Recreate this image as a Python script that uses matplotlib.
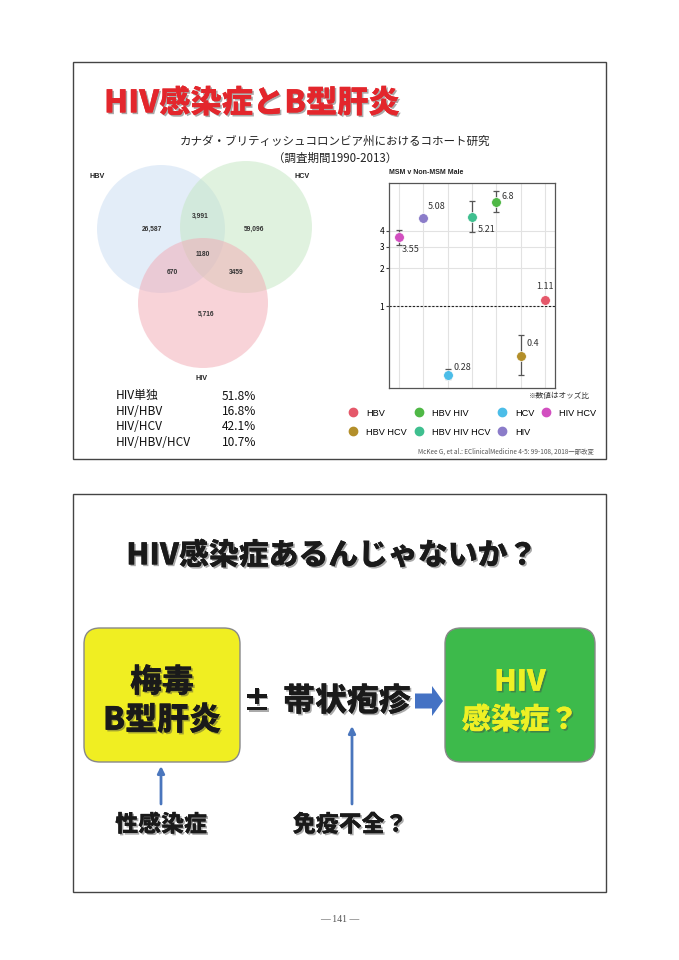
import matplotlib
matplotlib.use('Agg')
import matplotlib.pyplot as plt
import matplotlib.patches as mpatches
import matplotlib.patheffects as pe
from matplotlib.lines import Line2D
import numpy as np

plt.rcParams['font.family'] = ['Noto Sans CJK JP', 'DejaVu Sans']

W, H = 679, 960

# venn counts
venn_sets = ['HBV', 'HCV', 'HIV']
venn_counts = {'HBV': '26,587', 'HCV': '59,096', 'HIV': '5,716',
               'HBV_HCV': '3,991', 'HBV_HIV': '670', 'HCV_HIV': '3459',
               'ALL': '1180'}

# co-infection share among HIV
share_labels = ['HIV単独', 'HIV/HBV', 'HIV/HCV', 'HIV/HBV/HCV']
share_values = ['51.8%', '16.8%', '42.1%', '10.7%']

# odds ratios, MSM v Non-MSM Male
groups = ['HIV HCV', 'HIV', 'HCV', 'HBV HIV HCV', 'HBV HIV', 'HBV HCV', 'HBV']
odds = [3.55, 5.08, 0.28, 5.21, 6.8, 0.4, 1.11]
ci_lo = [3.1, 4.95, 0.26, 3.93, 5.68, 0.28, 1.06]
ci_hi = [4.06, 5.2, 0.31, 6.96, 8.37, 0.585, 1.16]
colors = {'HBV': '#e5586a', 'HBV HIV': '#4fb846', 'HCV': '#4cbde8',
          'HIV HCV': '#d24fc0', 'HBV HCV': '#b38f2a',
          'HBV HIV HCV': '#3fbf8f', 'HIV': '#8b7cc9'}
legend_order = ['HBV', 'HBV HCV', 'HBV HIV', 'HBV HIV HCV', 'HCV', 'HIV', 'HIV HCV']

fig = plt.figure(figsize=(W / 100, H / 100), dpi=100)
bg = fig.add_axes([0, 0, 1, 1])
bg.set_xlim(0, W)
bg.set_ylim(H, 0)
bg.axis('off')


def px_axes(x0, y0, x1, y1):
    return fig.add_axes([x0 / W, 1 - y1 / H, (x1 - x0) / W, (y1 - y0) / H])


shadow = [pe.withSimplePatchShadow(offset=(1.2, -1.2), shadow_rgbFace='#444444', alpha=0.45), pe.Normal()]

# slide frames
for top, bot in [(62, 459), (494, 892)]:
    bg.add_patch(mpatches.Rectangle((73, top), 533, bot - top, fill=False, ec='#444444', lw=1.0))

# ---------- slide 1 ----------
bg.text(104, 103, 'HIV感染症とB型肝炎', fontsize=22.5, fontweight='black', color='#e3262c',
        ha='left', va='center', path_effects=shadow)
bg.text(335, 141, 'カナダ・ブリティッシュコロンビア州におけるコホート研究', fontsize=8.3,
        ha='center', va='center', color='#222222')
bg.text(335, 158, '（調査期間1990-2013）', fontsize=8.3, ha='center', va='center', color='#222222')

# venn
circ = {'HBV': ((161, 229), 64, '#c3d8f1', 0.45),
        'HCV': ((246, 227), 66, '#c3e6c1', 0.5),
        'HIV': ((203, 303), 65, '#f2a9b3', 0.5)}
for s in venn_sets:
    c, r, col, a = circ[s]
    bg.add_patch(mpatches.Circle(c, r, fc=col, ec='none', alpha=a))
vfont = dict(fontsize=4.8, family=['Liberation Sans', 'DejaVu Sans'], fontweight='bold',
             ha='center', va='center', color='#333333')
bg.text(152, 229, venn_counts['HBV'], **vfont)
bg.text(254, 229, venn_counts['HCV'], **vfont)
bg.text(206, 314, venn_counts['HIV'], **vfont)
bg.text(200, 216, venn_counts['HBV_HCV'], **vfont)
bg.text(172, 273, venn_counts['HBV_HIV'], **vfont)
bg.text(236, 273, venn_counts['HCV_HIV'], **vfont)
bg.text(203, 255, venn_counts['ALL'], **vfont)
lfont = dict(fontsize=5.2, family=['Liberation Sans', 'DejaVu Sans'], fontweight='bold',
             ha='center', va='center', color='#222222')
bg.text(97, 177, 'HBV', **lfont)
bg.text(302, 177, 'HCV', **lfont)
bg.text(202, 378, 'HIV', **lfont)

for i, (lab, val) in enumerate(zip(share_labels, share_values)):
    y = 396 + i * 15.5
    bg.text(116, y, lab, fontsize=8.6, ha='left', va='center', color='#111111')
    bg.text(222, y, val, fontsize=8.6, ha='left', va='center', color='#111111')

# odds ratio plot
ax = px_axes(389, 183, 555, 388)
x = np.arange(len(groups))
ax.set_yscale('log')
ax.set_ylim(0.22, 9.7)
ax.set_xlim(-0.41, 6.41)
ax.set_xticks(x)
ax.set_xticklabels([])
ax.set_yticks([1, 2, 3, 4])
ax.set_yticklabels(['1', '2', '3', '4'])
ax.yaxis.set_minor_locator(matplotlib.ticker.NullLocator())
ax.tick_params(axis='y', labelsize=6, length=2, color='#444444', pad=1.5)
ax.tick_params(axis='x', length=0)
ax.grid(True, color='#e2e2e2', lw=0.8)
ax.set_axisbelow(True)
for sp in ax.spines.values():
    sp.set_color('#555555')
    sp.set_linewidth(0.9)
ax.axhline(1, color='#222222', ls=(0, (2, 1.5)), lw=0.8)
for xi, g, o, lo, hi in zip(x, groups, odds, ci_lo, ci_hi):
    ax.errorbar(xi, o, yerr=[[o - lo], [hi - o]], fmt='none', ecolor='#555555', elinewidth=0.9, capsize=2, capthick=0.9)
    ax.plot(xi, o, 'o', ms=7, color=colors[g], mec='white', mew=0.5, zorder=3)
lab_off = {'HIV HCV': (2, -9), 'HIV': (3, 8), 'HCV': (4, 5), 'HBV HIV HCV': (4, -9),
           'HBV HIV': (4, 4), 'HBV HCV': (4, 9), 'HBV': (0, 10)}
for xi, g, o in zip(x, groups, odds):
    dx, dy = lab_off[g]
    ax.annotate(f'{o:g}', (xi, o), xytext=(dx, dy), textcoords='offset points',
                fontsize=6.5, ha='center' if g == 'HBV' else 'left', va='center', color='#333333')
fig.text(389 / W, 1 - 173 / H, 'MSM v Non-MSM Male', fontsize=5, fontweight='bold',
         family=['Liberation Sans', 'DejaVu Sans'], ha='left', va='center', color='#222222')

bg.text(590, 396, '※数値はオッズ比', fontsize=5.5, ha='right', va='center', color='#333333')
handles = [Line2D([], [], ls='none', marker='o', ms=6, color=colors[g]) for g in legend_order]
fig.legend(handles, legend_order, ncol=4, loc='upper left', bbox_to_anchor=(345 / W, 1 - 404 / H),
           frameon=False, prop={'family': ['Liberation Sans', 'DejaVu Sans'], 'size': 6.6},
           handlelength=0.8, handletextpad=1.0, columnspacing=0.9, labelspacing=1.1, borderpad=0)
bg.text(594, 452, 'McKee G, et al.: EClinicalMedicine 4-5: 99-108, 2018一部改変', fontsize=4.6,
        ha='right', va='center', color='#555555')

# ---------- slide 2 ----------
bg.text(332, 555, 'HIV感染症あるんじゃないか？', fontsize=21.5, fontweight='black', color='#1a1a1a',
        ha='center', va='center', path_effects=shadow)

bg.add_patch(mpatches.FancyBboxPatch((84, 628), 156, 134, boxstyle='round,pad=0,rounding_size=16',
                                     fc='#f0ee22', ec='#888888', lw=1))
bg.add_patch(mpatches.FancyBboxPatch((445, 628), 150, 134, boxstyle='round,pad=0,rounding_size=16',
                                     fc='#3dba4b', ec='#888888', lw=1))
bg.text(162, 682, '梅毒', fontsize=23, fontweight='black', color='#1a1a1a', ha='center', va='center', path_effects=shadow)
bg.text(162, 720, 'B型肝炎', fontsize=23, fontweight='black', color='#1a1a1a', ha='center', va='center', path_effects=shadow)
bg.text(520, 682, 'HIV', fontsize=21, fontweight='black', color='#eef025', ha='center', va='center', path_effects=shadow)
bg.text(520, 720, '感染症？', fontsize=21, fontweight='black', color='#eef025', ha='center', va='center', path_effects=shadow)

bg.text(257, 702, '±', fontsize=20, fontweight='black', color='#1a1a1a', ha='center', va='center', path_effects=shadow)
bg.text(347, 701, '帯状疱疹', fontsize=23, fontweight='black', color='#1a1a1a', ha='center', va='center', path_effects=shadow)
bg.add_patch(mpatches.FancyArrow(415, 701, 28, 0, width=15, head_width=30, head_length=11,
                                 length_includes_head=True, fc='#4472c4', ec='none'))

for xa, ytop in [(161, 766), (352, 726)]:
    bg.annotate('', xy=(xa, ytop), xytext=(xa, 804),
                arrowprops=dict(arrowstyle='-|>', color='#4a76bd', lw=2, mutation_scale=10, shrinkA=0, shrinkB=0))
bg.text(161, 825, '性感染症', fontsize=16.5, fontweight='black', color='#1a1a1a', ha='center', va='center', path_effects=shadow)
bg.text(350, 825, '免疫不全？', fontsize=16.5, fontweight='black', color='#1a1a1a', ha='center', va='center', path_effects=shadow)

bg.text(340, 919, '― 141 ―', fontsize=7, family=['Liberation Serif', 'Noto Sans CJK JP'],
        ha='center', va='center', color='#555555')

fig.savefig('out.png', dpi=100)
